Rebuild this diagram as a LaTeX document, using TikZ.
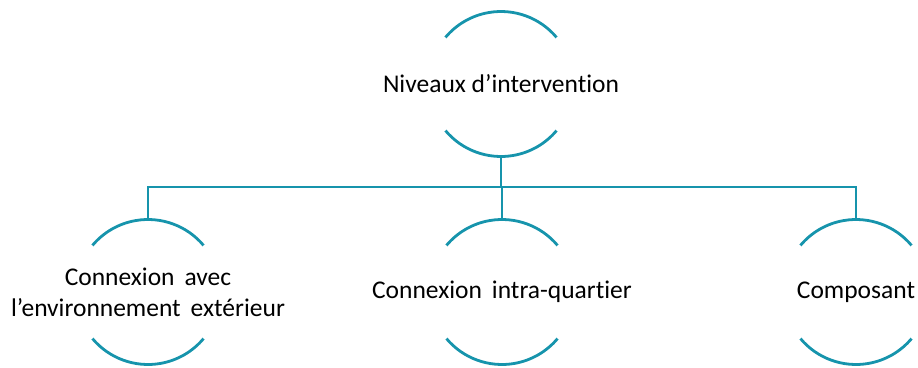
\documentclass[tikz,border=0pt]{standalone}
\usepackage{fontspec}
\setmainfont{Carlito}[Ligatures=CommonOff]
\usetikzlibrary{calc}
\definecolor{teal1}{RGB}{22,148,172}
\tikzset{
  arcline/.style={draw=teal1, line width=2.8pt},
  conn/.style={draw=teal1, line width=2.8pt},
  lbl/.style={inner sep=0pt, align=center, font=\fontsize{25.5}{31}\selectfont, text=black}
}
\newcommand{\halfarcs}[1]{%
  \draw[arcline] ($(#1.center)+(40:72.5pt)$) arc (40:140:72.5pt);
  \draw[arcline] ($(#1.center)+(220:72.5pt)$) arc (220:320:72.5pt);
}
\begin{document}
\begin{tikzpicture}[x=1pt,y=1pt]
\useasboundingbox (0,0) rectangle (918,-367);
\node[lbl] (top) at (501,-84) {Niveaux d’intervention};
\node[lbl] (c1) at (148,-292) {Connexion\, avec\\l’environnement\, extérieur};
\node[lbl] (c2) at (502,-292) {Connexion\, intra-quartier};
\node[lbl] (c3) at (856,-292) {Composant};
\halfarcs{top}
\halfarcs{c1}
\halfarcs{c2}
\halfarcs{c3}
\coordinate (tb) at ($(top.center)+(0,-72.5)$);
\coordinate (t1) at ($(c1.center)+(0,72.5)$);
\coordinate (t2) at ($(c2.center)+(0,72.5)$);
\coordinate (t3) at ($(c3.center)+(0,72.5)$);
\coordinate (bus) at (0,-187);
\draw[conn] (t1) -- (t1 |- bus) -- (t3 |- bus) -- (t3);
\draw[conn] (tb) -- (tb |- bus);
\draw[conn] (t2) -- (t2 |- bus);
\end{tikzpicture}
\end{document}
